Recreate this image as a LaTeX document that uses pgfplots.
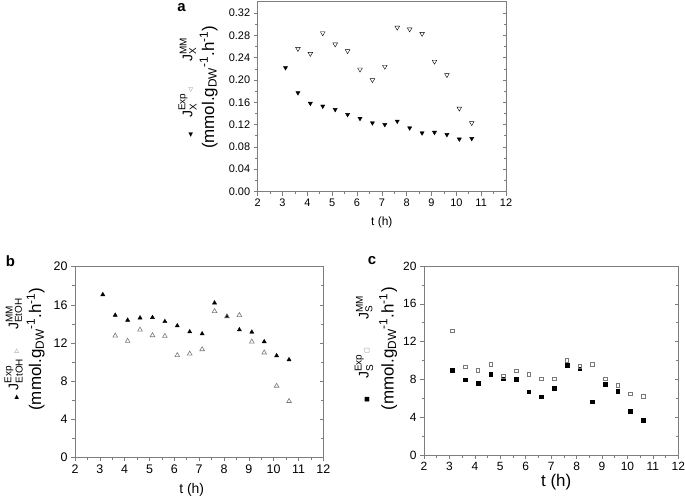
\documentclass[border=0pt]{standalone}
\usepackage{pgfplots}
\pgfplotsset{compat=1.18}
\usepackage{amsmath}
\usepackage{fontspec}
\setmainfont{Liberation Sans}
\newfontfamily\symfont{DejaVu Sans}
\definecolor{axgray}{RGB}{125,125,125}
\definecolor{mkgray}{RGB}{120,120,120}

% legend glyphs inside the rotated y labels
\newcommand{\mf}[1]{{\symfont\fontsize{6}{6}\selectfont #1}}
\newcommand{\mo}[1]{{\symfont\fontsize{6}{6}\selectfont\color{mkgray}#1}}
\newcommand{\sz}[1]{\text{\fontsize{10}{10}\selectfont #1}}
\newcommand{\J}[2]{$\text{J}^{\sz{#1}}_{\sz{#2}}$}
% #1 filled glyph, #2 open glyph, #3 subscript, #4-#6 gaps
\newcommand{\lineone}[6]{{\fontsize{14}{14}\selectfont\mf{#1}\hspace{#4}\J{Exp}{#3}\hspace{#5}\mo{#2}\hspace{#6}\J{MM}{#3}}}
\newcommand{\unit}{{\fontsize{17}{17}\selectfont(mmol.g$_{\text{DW}}$$^{\text{-1}}$.h$^{\text{-1}}$)}}

\pgfplotsset{
  panel/.style={
    scale only axis, anchor=north west,
    xmin=2, xmax=12, xtick={2,3,...,12},
    minor x tick num=1, minor y tick num=1,
    tick align=outside, tick pos=left,
    axis line style={axgray, line width=0.8bp},
    every tick/.style={axgray, line width=0.6bp},
    major tick length=4bp, minor tick length=2.5bp,
    /pgf/number format/assume math mode=true,
    ylabel style={align=center, anchor=center},
    xlabel style={anchor=center},
    clip=false,
  },
  rticks/.style={
    scale only axis, anchor=north west,
    xmin=2, xmax=12, axis x line=none, axis y line*=right,
    tick align=inside, yticklabels={}, minor y tick num=1,
    axis line style={axgray, line width=0.8bp},
    every tick/.style={axgray, line width=0.6bp},
    major tick length=3bp, minor tick length=2.5bp,
  },
  fexp/.style={only marks, mark size=2.4bp, mark options={draw=black, fill=black}},
  omm/.style={only marks, mark size=2.7bp, mark options={draw=mkgray, line width=0.6bp}},
}

\begin{document}
\begin{tikzpicture}
\useasboundingbox (0,0) rectangle (685bp,-497bp);

% ---------------- panel a ----------------
\begin{axis}[panel, at={(257.7bp,-1bp)}, width=248.3bp, height=190.5bp,
  ymin=0, ymax=0.3416, ytick={0,0.04,...,0.33},
  scaled y ticks=false,
  yticklabel style={/pgf/number format/.cd, fixed, fixed zerofill, precision=2},
  ticklabel style={font=\fontsize{11}{11}\selectfont},
  xlabel={t (h)}, xlabel style={font=\fontsize{12}{12}\selectfont, at={(axis description cs:0.5,0)}, yshift=-31bp},
  ylabel={\lineone{◀}{◁}{X}{15bp}{1bp}{26bp}\\[2bp]\unit},
  ylabel style={at={(axis description cs:-0.240,0.547)}},
]
\addplot[fexp, mark=triangle*, mark options={rotate=180}] coordinates {
(3.12,0.222) (3.62,0.177) (4.12,0.158) (4.62,0.153) (5.12,0.147) (5.62,0.138)
(6.12,0.131) (6.62,0.123) (7.12,0.120) (7.62,0.126) (8.12,0.114) (8.62,0.105)
(9.12,0.106) (9.62,0.102) (10.12,0.094) (10.62,0.095)};
\addplot[omm, mark=triangle, mark options={rotate=180}] coordinates {
(3.62,0.256) (4.12,0.247) (4.62,0.284) (5.12,0.264) (5.62,0.252) (6.12,0.219)
(6.62,0.200) (7.12,0.224) (7.62,0.294) (8.12,0.291) (8.62,0.283) (9.12,0.233)
(9.62,0.209) (10.12,0.149) (10.62,0.123)};
\end{axis}
\begin{axis}[rticks, at={(257.7bp,-1bp)}, width=248.3bp, height=190.5bp,
  ymin=0, ymax=0.3416, ytick={0,0.04,...,0.33}]
\end{axis}

% ---------------- panel b ----------------
\begin{axis}[panel, at={(75bp,-266.7bp)}, width=248.3bp, height=190.6bp,
  ymin=0, ymax=20, ytick={0,4,...,20},
  ticklabel style={font=\fontsize{12.5}{12.5}\selectfont},
  xlabel={t (h)}, xlabel style={font=\fontsize{14}{14}\selectfont, at={(axis description cs:0.47,0)}, yshift=-33bp},
  ylabel={\lineone{▶}{▷}{EtOH}{5bp}{5bp}{19bp}\\[3bp]\unit},
  ylabel style={at={(axis description cs:-0.203,0.568)}},
]
\addplot[fexp, mark=triangle*] coordinates {
(3.12,17.07) (3.62,14.91) (4.12,14.39) (4.62,14.63) (5.12,14.67) (5.62,14.25)
(6.12,13.80) (6.62,13.17) (7.12,12.96) (7.62,16.20) (8.12,14.77) (8.62,13.38)
(9.12,13.14) (9.62,12.13) (10.12,10.66) (10.62,10.24)};
\addplot[omm, mark=triangle] coordinates {
(3.62,12.75) (4.12,12.20) (4.62,13.38) (5.12,12.79) (5.62,12.72) (6.12,10.70)
(6.62,10.87) (7.12,11.32) (7.62,15.33) (8.12,14.77) (8.62,14.91) (9.12,12.13)
(9.62,10.98) (10.12,7.49) (10.62,5.89)};
\end{axis}
\begin{axis}[rticks, at={(75bp,-266.7bp)}, width=248.3bp, height=190.6bp,
  ymin=0, ymax=20, ytick={0,4,...,20}]
\end{axis}

% ---------------- panel c ----------------
\begin{axis}[panel, at={(424bp,-266bp)}, width=254.3bp, height=189bp,
  ymin=0, ymax=20, ytick={0,4,...,20},
  ticklabel style={font=\fontsize{12}{12}\selectfont},
  xlabel={t (h)}, xlabel style={font=\fontsize{17}{17}\selectfont, at={(axis description cs:0.52,0)}, yshift=-27bp},
  ylabel={\lineone{■}{□}{S}{18bp}{1bp}{28bp}\\[5bp]\unit},
  ylabel style={at={(axis description cs:-0.189,0.561)}},
]
\addplot[fexp, mark=square*, mark size=1.8bp] coordinates {
(3.12,8.99) (3.62,7.96) (4.12,7.61) (4.62,8.53) (5.12,8.07) (5.62,8.00)
(6.12,6.69) (6.62,6.16) (7.12,7.04) (7.62,9.49) (8.12,9.13) (8.62,5.66)
(9.12,7.47) (9.62,6.73) (10.12,4.64) (10.62,3.68)};
\addplot[omm, mark=square, mark size=1.8bp] coordinates {
(3.12,13.13) (3.62,9.35) (4.12,8.99) (4.62,9.63) (5.12,8.35) (5.62,8.92)
(6.12,8.57) (6.62,8.07) (7.12,8.07) (7.62,10.02) (8.12,9.38) (8.62,9.63)
(9.12,8.07) (9.62,7.40) (10.12,6.48) (10.62,6.19)};
\end{axis}
\begin{axis}[rticks, at={(424bp,-266bp)}, width=254.3bp, height=189bp,
  ymin=0, ymax=20, ytick={0,4,...,20}]
\end{axis}

% panel letters
\node[font=\bfseries\fontsize{15}{15}\selectfont] at (181.5bp,-8bp) {a};
\node[font=\bfseries\fontsize{15}{15}\selectfont] at (10.5bp,-261bp) {b};
\node[font=\bfseries\fontsize{15}{15}\selectfont] at (372bp,-261bp) {c};
\end{tikzpicture}
\end{document}
